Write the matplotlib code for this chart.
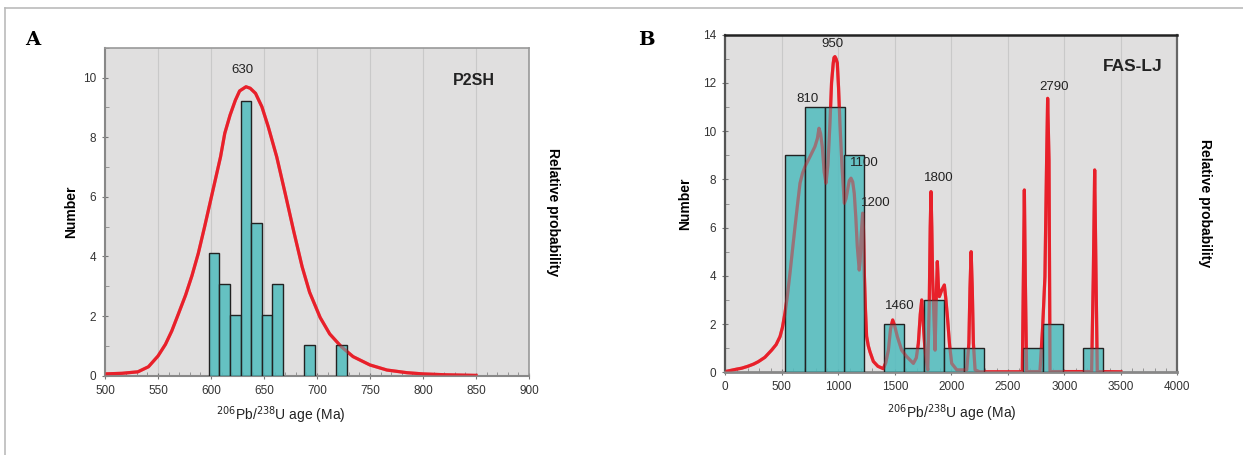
from matplotlib import pyplot as plt
from matplotlib.lines import Line2D
import numpy as np

# ---- panel A (P2SH) ----
a_bin_left = [598, 608, 618, 628, 638, 648, 658, 688, 718]
a_counts = [4.1, 3.07, 2.05, 9.22, 5.13, 2.05, 3.07, 1.03, 1.03]
a_bin_width = 10
a_curve_age = [500, 516, 531, 541, 550, 557, 563, 569, 576, 582, 588, 594, 599, 604, 609, 613,
               618, 623, 627, 633, 637, 642, 648, 654, 662, 670, 678, 686, 693, 703, 712, 723,
               734, 750, 766, 785, 800, 822, 850]
a_curve_val = [0.06, 0.08, 0.13, 0.30, 0.66, 1.05, 1.5, 2.05, 2.7, 3.35, 4.1, 5.0, 5.78, 6.56,
               7.34, 8.13, 8.74, 9.24, 9.55, 9.69, 9.64, 9.47, 9.02, 8.35, 7.34, 6.11, 4.85, 3.65,
               2.8, 1.95, 1.4, 0.97, 0.64, 0.36, 0.19, 0.10, 0.06, 0.03, 0.01]
a_peaks = [('630', 630, 10.25)]

# ---- panel B (FAS-LJ) ----
b_bin_left = [527, 703, 879, 1054, 1406, 1582, 1757, 1933, 2109, 2636, 2812, 3163]
b_counts = [9, 11, 11, 9, 2, 1, 3, 1, 1, 1, 2, 1]
b_bin_width = 176
b_curve_age = [0, 50, 100, 145, 200, 250, 292, 350, 410, 450, 484, 505, 528, 550, 572, 595,
               617, 640, 661, 683, 705, 749, 793, 815, 829, 843, 858, 875, 891, 908, 926, 940,
               955, 962, 970, 980, 991, 1002, 1014, 1033, 1053, 1068, 1082, 1097, 1112, 1127,
               1141, 1155, 1168, 1185, 1193, 1200, 1215, 1222, 1230, 1240, 1250, 1265, 1280,
               1310, 1350, 1398, 1420, 1443, 1462, 1481, 1500, 1522, 1560, 1605, 1664, 1690,
               1708, 1725, 1738, 1752, 1767, 1791, 1805, 1813, 1820, 1827, 1834, 1841, 1856,
               1866, 1876, 1886, 1894, 1915, 1938, 1950, 1965, 1985, 2003, 2048, 2136, 2155,
               2165, 2175, 2185, 2195, 2210, 2250, 2620, 2628, 2640, 2646, 2654, 2666, 2784,
               2808, 2828, 2843, 2852, 2864, 2873, 3241, 3256, 3268, 3280, 3291, 3500]
b_curve_val = [0.03, 0.08, 0.13, 0.17, 0.25, 0.34, 0.44, 0.62, 0.92, 1.15, 1.48, 1.85, 2.45, 3.2,
               4.1, 5.1, 6.04, 7.0, 7.84, 8.25, 8.53, 8.94, 9.36, 9.7, 10.12, 9.9, 9.36, 8.3,
               7.84, 8.6, 10.33, 12.0, 12.82, 13.05, 13.09, 13.0, 12.82, 11.8, 10.33, 8.5, 7.01,
               7.2, 7.56, 7.95, 8.05, 7.9, 7.42, 6.4, 5.21, 4.24, 4.6, 5.49, 6.6, 6.0, 4.1, 2.6,
               1.5, 1.1, 0.85, 0.45, 0.25, 0.15, 0.4, 0.92, 1.8, 2.17, 1.9, 1.48, 0.92, 0.65,
               0.37, 0.6, 1.2, 2.4, 3.0, 2.0, 0.92, 0.1, 3.0, 6.0, 7.49, 6.0, 4.0, 3.0, 0.92, 3.0,
               4.59, 3.5, 3.14, 3.41, 3.62, 3.1, 2.31, 1.1, 0.37, 0.1, 0.1, 1.2, 3.5, 5.0, 3.5,
               1.2, 0.1, 0.02, 0.02, 0.03, 5.0, 7.56, 4.0, 0.03, 0.03, 1.89, 3.97, 8.8, 11.36,
               8.8, 0.03, 0.03, 4.0, 8.39, 4.0, 0.03, 0.02]
b_peaks = [('950', 949, 13.6), ('810', 728, 11.32), ('2790', 2910, 11.82), ('1100', 1227, 8.69),
           ('1200', 1329, 7.0), ('1800', 1888, 8.04), ('1460', 1540, 2.75)]

red = '#e8202a'
bar_face = (0.33, 0.74, 0.75, 0.88)
bg = '#e0dfdf'
narrow = ['Liberation Sans Narrow', 'Liberation Sans', 'DejaVu Sans']
sans = ['Liberation Sans', 'DejaVu Sans']
xlab = r'$^{206}$Pb/$^{238}$U age (Ma)'

fig = plt.figure(figsize=(12.43, 4.55), dpi=100)

# light frame around the figure
fig.add_artist(Line2D([5/1243, 1], [1 - 8/455, 1 - 8/455], color='#bbbbbb', lw=1.2))
fig.add_artist(Line2D([5/1243, 5/1243], [0, 1 - 8/455], color='#bbbbbb', lw=1.2))


def panel(rect, bin_left, counts, width, cage, cval, xlim, ylim, xmaj, xmin, peaks,
          name, name_xy, name_size, xlabel_x, lpad, rpad):
    ax = fig.add_axes(rect)
    ax.set_facecolor(bg)
    ax.plot(cage, cval, color=red, lw=2.3, zorder=2, solid_joinstyle='round')
    ax.bar(bin_left, counts, width=width, align='edge', facecolor=bar_face,
           edgecolor='#222222', linewidth=1.0, zorder=3)
    ax.plot(cage, cval, color=red, lw=2.3, alpha=0.4, zorder=4, solid_joinstyle='round')
    ax.set_xlim(*xlim)
    ax.set_ylim(*ylim)
    ax.set_xticks(np.arange(xlim[0], xlim[1] + 1, xmaj))
    ax.set_xticks(np.arange(xlim[0], xlim[1] + 1, xmin), minor=True)
    ax.set_yticks(np.arange(0, ylim[1] + 0.1, 2))
    ax.set_yticks(np.arange(0, ylim[1] + 0.1, 1), minor=True)
    ax.xaxis.grid(True, color='#c9c9c9', lw=0.8, zorder=0)
    ax.set_axisbelow(True)
    ax.tick_params(which='major', direction='inout', length=5, color='#777777',
                   labelsize=8.5, labelcolor='#333333', pad=4)
    ax.tick_params(which='minor', direction='in', length=3, color='#888888')
    for t in ax.get_xticklabels() + ax.get_yticklabels():
        t.set_family(narrow)
    for lab, x, y in peaks:
        ax.text(x, y, lab, ha='center', va='center', fontsize=9.5, color='#222222',
                family=sans, zorder=6)
    ax.text(name_xy[0], name_xy[1], name, transform=ax.transAxes, ha='center', va='center',
            fontsize=name_size, fontweight='bold', color='#222222', family=sans)
    ax.text(xlabel_x, -0.12, xlab, transform=ax.transAxes, ha='center', va='center',
            fontsize=10, color='#222222', family=narrow)
    ax.set_ylabel('Number', fontsize=10, fontweight='bold', family=sans, labelpad=lpad)
    ax2 = ax.twinx()
    ax2.set_yticks([])
    ax2.set_ylabel('Relative probability', rotation=270, fontsize=10, fontweight='bold',
                   family=sans, labelpad=rpad)
    return ax, ax2


axA, axA2 = panel([105/1243, 1 - 375.7/455, 424/1243, 328/455], a_bin_left, a_counts, a_bin_width,
                  a_curve_age, a_curve_val, (500, 900), (0, 11), 50, 10, a_peaks,
                  'P2SH', (0.87, 0.9), 11.5, 0.415, 3, 22)
for s in ['left', 'bottom']:
    axA.spines[s].set_color('#888888')
    axA.spines[s].set_linewidth(1.5)
for s in ['top', 'right']:
    axA.spines[s].set_color('#999999')
    axA.spines[s].set_linewidth(1.2)
    axA2.spines[s].set_visible(False)
axA2.spines['left'].set_visible(False)
axA2.spines['bottom'].set_visible(False)

axB, axB2 = panel([725.3/1243, 1 - 372.3/455, 452.1/1243, 337.6/455], b_bin_left, b_counts,
                  b_bin_width, b_curve_age, b_curve_val, (0, 4000), (0, 14), 500, 100, b_peaks,
                  'FAS-LJ', (0.9, 0.905), 12.5, 0.5, 8, 25)
axB.spines['top'].set_color('#222222')
axB.spines['top'].set_linewidth(1.8)
axB.spines['left'].set_color('#555555')
axB.spines['left'].set_linewidth(1.6)
axB.spines['right'].set_color('#666666')
axB.spines['right'].set_linewidth(1.6)
axB.spines['bottom'].set_color('#888888')
axB.spines['bottom'].set_linewidth(2.0)
for s in ['top', 'right', 'left', 'bottom']:
    axB2.spines[s].set_visible(False)

fig.text(33/1243, 1 - 40/455, 'A', fontsize=14, fontweight='bold', family='DejaVu Serif',
         ha='center', va='center')
fig.text(646/1243, 1 - 40/455, 'B', fontsize=14, fontweight='bold', family='DejaVu Serif',
         ha='center', va='center')

fig.savefig('out.png', dpi=100)
